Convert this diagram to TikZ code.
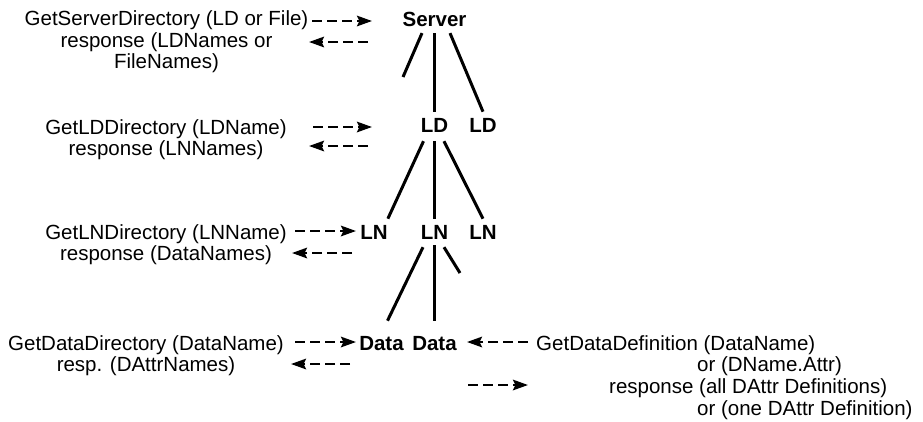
\documentclass[tikz,border=0pt]{standalone}
\usepackage{fontspec}
\setmainfont{Liberation Sans}
\usetikzlibrary{arrows.meta,calc}
\begin{document}
\begin{tikzpicture}[x=1pt,y=-1pt,
  lbl/.style={anchor=base, align=center, inner sep=0pt, font=\fontsize{20.5}{21.7}\selectfont},
  tnode/.style={anchor=base, font=\fontsize{20.5}{21.7}\selectfont\bfseries, inner xsep=0pt, inner ysep=6pt},
  branch/.style={line width=3pt},
  msg/.style={line width=2.5pt, dash pattern=on 10pt off 5pt, -{Stealth[length=15pt,width=10.5pt,inset=2.5pt]}}]
\useasboundingbox (0,0) rectangle (923,421);

% tree nodes
\node[tnode] (srv) at (434.5,26.7) {Server};
\node[tnode] (ld1) at (434.5,132) {LD};
\node[tnode] (ld2) at (483,132) {LD};
\node[tnode] (ln1) at (374,239) {LN};
\node[tnode] (ln2) at (434.5,239) {LN};
\node[tnode] (ln3) at (483,239) {LN};
\node[tnode] (d1) at (381.5,350) {Data};
\node[tnode] (d2) at (434.5,350) {Data};

% dangling ends
\coordinate (sdang) at (403,77);
\coordinate (ldang) at (460,273);

% branches
\draw[branch] ($(srv.south)+(-12.5,0)$) -- (sdang);
\draw[branch] (srv.south) -- (srv.south |- ld1.north);
\draw[branch] ($(srv.south)+(15.5,0)$) -- (ld2.north);
\draw[branch] ($(ld1.south)+(-11,3)$) -- (ln1.north east);
\draw[branch] ($(ld1.south)+(0,3)$) -- (ld1.south |- ln2.north);
\draw[branch] ($(ld1.south)+(9.5,3)$) -- (ln3.north);
\draw[branch] ($(ln2.south)+(-11.5,2)$) -- ($(d1.north)+(6,-9)$);
\draw[branch] (ln2.south) -- ($(ln2.south |- d2.north)+(0,-9)$);
\draw[branch] ($(ln2.south)+(9.5,2)$) -- (ldang);

% text labels (anchor base = baseline of the last line)
\node[lbl] (t1) at (166.5,68.9) {GetServerDirectory (LD or File)\\response (LDNames or\\FileNames)};
\node[lbl] (t2) at (166,155.7) {GetLDDirectory (LDName)\\response (LNNames)};
\node[lbl] (t3) at (166,260.7) {GetLNDirectory (LNName)\\response (DataNames)};
\node[lbl] (t4) at (146,371.7) {GetDataDirectory (DataName)\\resp. (DAttrNames)};
\node[lbl, anchor=base west, align=left] (t5) at (536,415.1) {GetDataDefinition (DataName)\\\hspace*{161pt}or (DName.Attr)\\\hspace*{73pt}response (all DAttr Definitions)\\\hspace*{161pt}or (one DAttr Definition)};

% message arrows
\coordinate (a1s) at (312,21);  \coordinate (a1e) at (372,21);
\coordinate (b1s) at (368,42);  \coordinate (b1e) at (309,42);
\coordinate (a2s) at (313,127); \coordinate (a2e) at (372,127);
\coordinate (b2s) at (368,146); \coordinate (b2e) at (309,146);
\coordinate (a3s) at (295,231); \coordinate (a3e) at (356,231);
\coordinate (b3s) at (352,253); \coordinate (b3e) at (292,253);
\coordinate (a4s) at (295,342); \coordinate (a4e) at (356,342);
\coordinate (b4s) at (350,364); \coordinate (b4e) at (291,364);
\coordinate (c1s) at (528,342); \coordinate (c1e) at (467,342);
\coordinate (c2s) at (468,385); \coordinate (c2e) at (528,385);
\draw[msg] (a1s) -- (a1e);
\draw[msg] (b1s) -- (b1e);
\draw[msg] (a2s) -- (a2e);
\draw[msg] (b2s) -- (b2e);
\draw[msg] (a3s) -- (a3e);
\draw[msg] (b3s) -- (b3e);
\draw[msg] (a4s) -- (a4e);
\draw[msg] (b4s) -- (b4e);
\draw[msg] (c1s) -- (c1e);
\draw[msg] (c2s) -- (c2e);
\end{tikzpicture}
\end{document}
